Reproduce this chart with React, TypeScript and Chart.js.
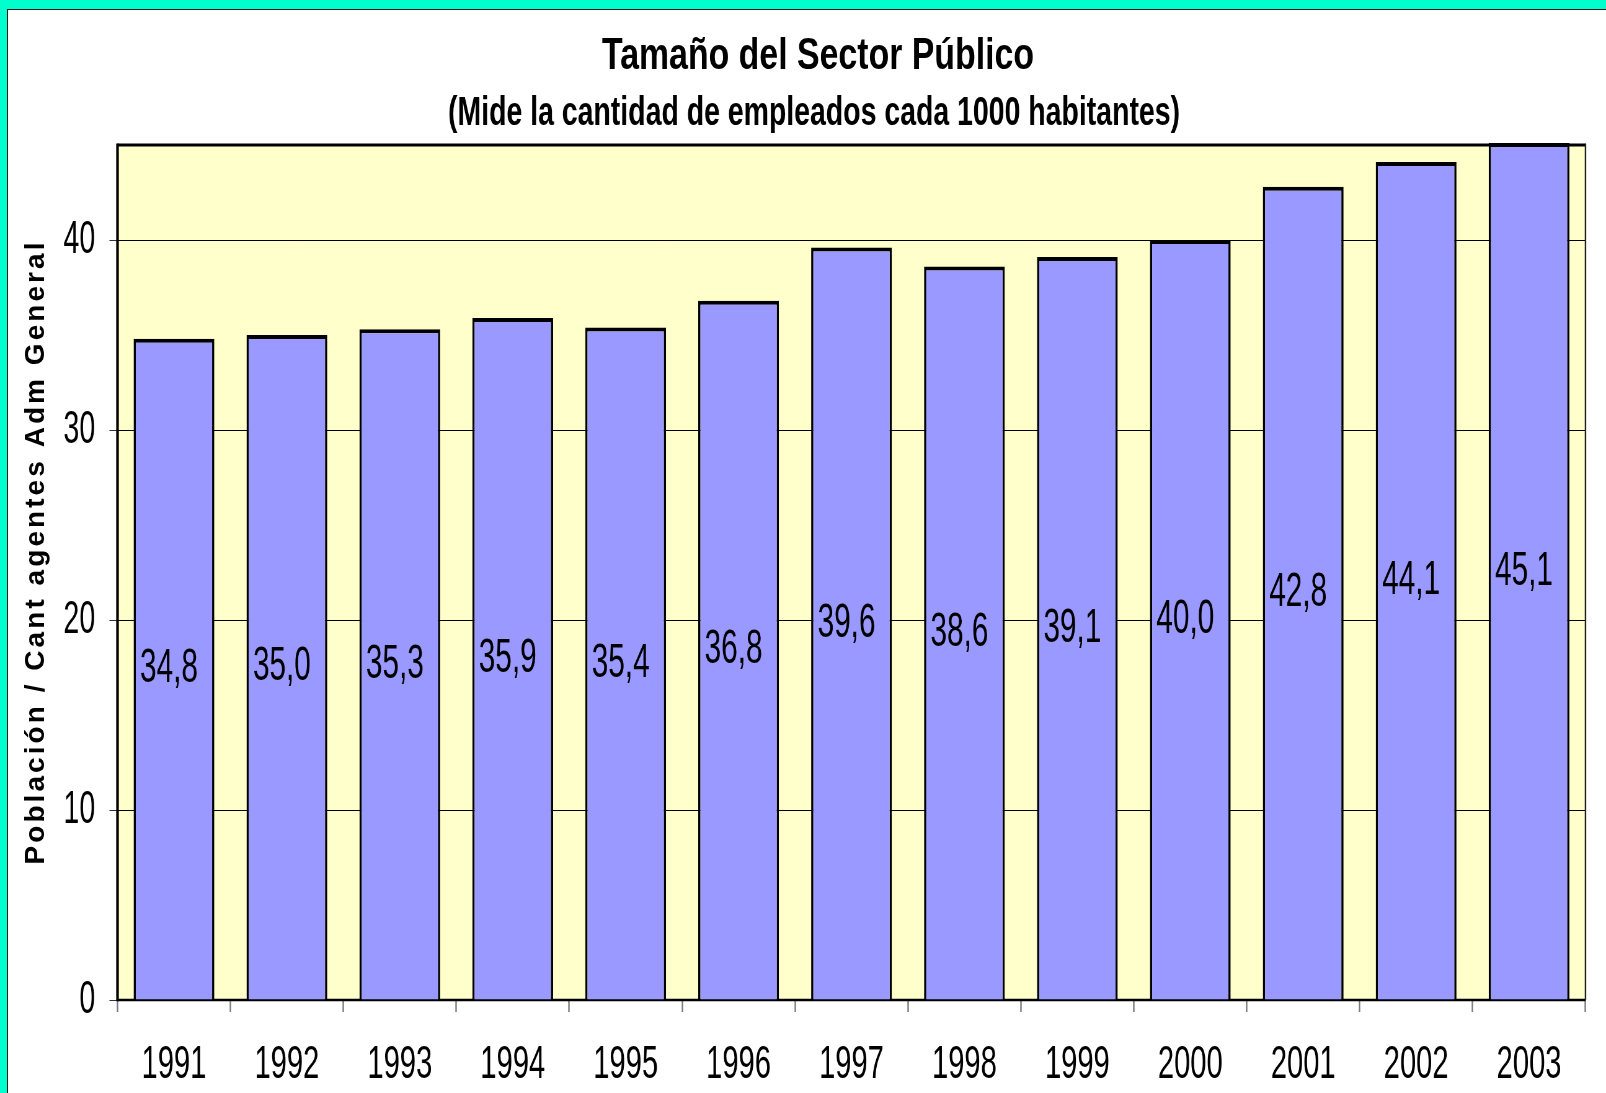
import React, { useEffect, useRef } from 'react';
import { Chart, registerables } from 'chart.js';

Chart.register(...registerables);

// ---- data ----
const categories = ['1991', '1992', '1993', '1994', '1995', '1996', '1997', '1998', '1999', '2000', '2001', '2002', '2003'];
const values = [34.8, 35.0, 35.3, 35.9, 35.4, 36.8, 39.6, 38.6, 39.1, 40.0, 42.8, 44.1, 45.1];
const chartTitle = 'Tamaño del Sector Público';
const chartSubtitle = '(Mide la cantidad de empleados cada 1000 habitantes)';
const yAxisTitle = 'Población / Cant agentes Adm General';
const yMin = 0;
const yMax = 45;
const yStep = 10;

// ---- layout ----
const PAGE_W = 1606;
const PAGE_H = 1093;
const CANVAS_W = 2590; // drawn wide, shown condensed like the original
const SX = PAGE_W / CANVAS_W;
const PLOT_LEFT = 117.5 / SX;
const PLOT_RIGHT = 1585.5 / SX;
const PLOT_TOP = 145;
const X_AXIS_H = PAGE_H - 1000;
const FONT = '"Liberation Sans", Arial, Helvetica, sans-serif';
const CYAN = '#00FFCC';

function fitText(ctx: CanvasRenderingContext2D, text: string, cxScreen: number, baseline: number, font: string, widthScreen: number) {
  ctx.save();
  ctx.font = font;
  const m = ctx.measureText(text).width;
  const k = widthScreen / SX / m;
  ctx.translate(cxScreen / SX, baseline);
  ctx.scale(k, 1);
  ctx.textAlign = 'center';
  ctx.textBaseline = 'alphabetic';
  ctx.fillStyle = '#000';
  ctx.fillText(text, 0, 0);
  ctx.restore();
}

const decorPlugin = {
  id: 'decor',
  beforeDraw(chart: any) {
    const { ctx, chartArea: a } = chart;
    ctx.save();
    ctx.fillStyle = '#FFFFCC';
    ctx.fillRect(a.left, a.top, a.right - a.left, a.bottom - a.top);
    ctx.restore();
  },
  beforeDatasetsDraw(chart: any) {
    const { ctx, chartArea: a } = chart;
    const line = (x1: number, y1: number, x2: number, y2: number) => {
      ctx.beginPath();
      ctx.moveTo(x1, y1);
      ctx.lineTo(x2, y2);
      ctx.stroke();
    };
    ctx.save();
    ctx.strokeStyle = '#000';
    ctx.lineWidth = 3;
    line(a.left, a.top, a.right, a.top);
    ctx.lineWidth = 2.5;
    line(a.left, a.bottom, a.right, a.bottom);
    ctx.lineWidth = 2.6 / SX;
    line(a.left, a.top - 1.5, a.left, a.bottom + 1.2);
    ctx.strokeStyle = '#222';
    ctx.lineWidth = 1.5 / SX;
    line(a.right, a.top - 1.5, a.right, a.bottom);
    ctx.restore();
  },
  afterDatasetsDraw(chart: any) {
    const { ctx } = chart;
    const meta = chart.getDatasetMeta(0);
    ctx.save();
    ctx.font = `48px ${FONT}`;
    ctx.fillStyle = '#000';
    ctx.textAlign = 'center';
    ctx.textBaseline = 'middle';
    meta.data.forEach((el: any, i: number) => {
      const txt = values[i].toFixed(1).replace('.', ',');
      ctx.fillText(txt, el.x - 5 / SX, (el.y + el.base) / 2);
    });
    ctx.restore();
  },
  afterDraw(chart: any) {
    const { ctx } = chart;
    fitText(ctx, chartTitle, 818, 69, `bold 45px ${FONT}`, 432);
    fitText(ctx, chartSubtitle, 814, 125, `bold 40px ${FONT}`, 732);

    // rotated y-axis title (kept unsquished, letter-spaced)
    ctx.save();
    ctx.translate(44 / SX, 553.5);
    ctx.scale(1 / SX, 1);
    ctx.rotate(-Math.PI / 2);
    ctx.font = `bold 28px ${FONT}`;
    (ctx as any).letterSpacing = '0px';
    const m = ctx.measureText(yAxisTitle).width;
    const n = Array.from(yAxisTitle).length;
    const sp = Math.max(0, (625 - m) / n);
    (ctx as any).letterSpacing = `${sp}px`;
    ctx.textAlign = 'center';
    ctx.textBaseline = 'alphabetic';
    ctx.fillStyle = '#000';
    ctx.fillText(yAxisTitle, sp / 2, 0);
    ctx.restore();
  },
};

export default function App() {
  const ref = useRef<HTMLCanvasElement>(null);

  useEffect(() => {
    document.body.style.margin = '0';
    const canvas = ref.current;
    if (!canvas) return;
    const chart = new Chart(canvas, {
      type: 'bar',
      data: {
        labels: categories,
        datasets: [
          {
            data: values,
            backgroundColor: '#9999FF',
            borderColor: '#000',
            borderWidth: { top: 4, left: 3.6, right: 3.6, bottom: 0 },
            borderSkipped: 'start',
            barPercentage: 0.715,
            categoryPercentage: 1,
            clip: false as any,
          },
        ],
      },
      options: {
        animation: false,
        responsive: false,
        events: [],
        layout: { padding: { left: 0, top: PLOT_TOP, right: CANVAS_W - PLOT_RIGHT, bottom: 0 } },
        plugins: {
          legend: { display: false },
          tooltip: { enabled: false },
          title: { display: false },
        },
        scales: {
          x: {
            grid: {
              display: true,
              drawOnChartArea: false,
              drawTicks: true,
              tickLength: 12,
              tickColor: '#7a7a7a',
              tickWidth: 1.5 / SX,
              offset: true,
            },
            border: { display: false },
            ticks: {
              color: '#000',
              font: { family: FONT, size: 47 },
              padding: 25,
              maxRotation: 0,
              autoSkip: false,
            },
            afterFit(s: any) {
              s.height = X_AXIS_H;
            },
          },
          y: {
            min: yMin,
            max: yMax,
            grid: {
              color: '#000',
              lineWidth: 1,
              drawTicks: true,
              tickLength: 13,
              tickColor: '#333',
              tickWidth: 1,
            },
            border: { display: false },
            ticks: {
              stepSize: yStep,
              includeBounds: false,
              color: '#000',
              font: { family: FONT, size: 46 },
              padding: 23,
            },
            afterFit(s: any) {
              s.width = PLOT_LEFT;
            },
          },
        },
      } as any,
      plugins: [decorPlugin],
    });
    return () => chart.destroy();
  }, []);

  return (
    <div style={{ position: 'relative', width: PAGE_W, height: PAGE_H, background: '#fff', overflow: 'hidden' }}>
      <canvas
        ref={ref}
        width={CANVAS_W}
        height={PAGE_H}
        style={{ position: 'absolute', left: 0, top: 0, width: PAGE_W, height: PAGE_H }}
      />
      <div style={{ position: 'absolute', left: 0, top: 0, width: PAGE_W, height: 9, background: CYAN }} />
      <div style={{ position: 'absolute', left: 0, top: 0, width: 7, height: PAGE_H, background: CYAN }} />
      <div style={{ position: 'absolute', left: 7, top: 9, width: PAGE_W - 7, height: 1, background: '#1a1a1a' }} />
      <div style={{ position: 'absolute', left: 7, top: 9, width: 1, height: PAGE_H - 9, background: '#1a1a1a' }} />
    </div>
  );
}
